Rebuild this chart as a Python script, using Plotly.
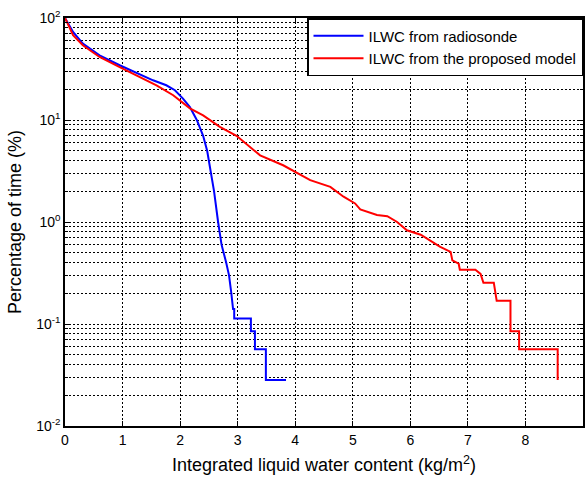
import plotly.graph_objects as go

# ---- data ----
radiosonde_x = [0, 0.14, 0.31, 0.60, 0.95, 1.24, 1.53, 1.76, 1.91, 2.05, 2.17, 2.29,
                2.40, 2.47, 2.535, 2.59, 2.66, 2.72, 2.80, 2.85, 2.89, 2.92, 2.94, 2.94,
                3.23, 3.23, 3.30, 3.30, 3.49, 3.49, 3.84]
radiosonde_y = [100, 73, 56, 43, 34.4, 28.9, 24.5, 21.9, 19.6, 16.2, 13.4, 10,
                7, 5, 3, 2, 1, 0.6, 0.4, 0.3, 0.2, 0.14, 0.14, 0.113,
                0.113, 0.085, 0.085, 0.0565, 0.0565, 0.0283, 0.0283]

model_x = [0, 0.14, 0.31, 0.60, 0.95, 1.30, 1.59, 1.88, 2.17, 2.40, 2.69, 2.98,
           3.39, 3.79, 4.0, 4.26, 4.61, 4.84, 5.04, 5.13, 5.42, 5.60, 5.77, 5.94,
           6.18, 6.38, 6.52, 6.70, 6.73, 6.84, 6.86, 7.13, 7.22, 7.27, 7.45, 7.50,
           7.74, 7.74, 7.89, 7.89, 8.56, 8.56]
model_y = [100, 67.7, 54, 41.5, 33, 26.4, 21.9, 17.5, 13, 11.1, 8.55, 7.0,
           4.5, 3.6, 3.1, 2.57, 2.21, 1.77, 1.52, 1.33, 1.17, 1.14, 1.0, 0.83,
           0.75, 0.64, 0.57, 0.51, 0.42, 0.39, 0.34, 0.34, 0.31, 0.254, 0.254, 0.169,
           0.169, 0.085, 0.085, 0.0565, 0.0565, 0.0283]

series_names = ["ILWC from radiosonde", "ILWC from the proposed model"]
x_ticks = [0, 1, 2, 3, 4, 5, 6, 7, 8, 9]
y_tickvals = [0.01, 0.1, 1, 10, 100]
y_ticktext = ["10<sup>-2</sup>", "10<sup>-1</sup>", "10<sup>0</sup>", "10<sup>1</sup>", "10<sup>2</sup>"]

font_family = "Liberation Sans, Arial, sans-serif"
grid_dash = "2px,2px"

fig = go.Figure()
fig.add_trace(go.Scatter(x=radiosonde_x, y=radiosonde_y, mode="lines",
                         name=series_names[0], line=dict(color="#0000ff", width=2)))
fig.add_trace(go.Scatter(x=model_x, y=model_y, mode="lines",
                         name=series_names[1], line=dict(color="#ff0000", width=2)))

fig.update_layout(
    width=587, height=483,
    margin=dict(l=65, r=2, t=18, b=57),
    paper_bgcolor="white", plot_bgcolor="white",
    font=dict(family=font_family, size=14, color="black"),
    showlegend=True,
    legend=dict(x=1, y=1, xanchor="right", yanchor="top",
                bgcolor="white", bordercolor="black", borderwidth=1.5,
                font=dict(size=15), tracegroupgap=0, itemwidth=50),
)

fig.update_xaxes(
    range=[0, 9], tickvals=x_ticks, ticktext=[str(v) for v in x_ticks],
    showgrid=True, gridcolor="black", griddash=grid_dash, gridwidth=1,
    showline=True, linecolor="black", linewidth=1.5, mirror="ticks",
    ticks="inside", ticklen=5, tickcolor="black", zeroline=False,
    tickfont=dict(size=14),
    title=dict(text="Integrated liquid water content (kg/m<sup>2</sup>)",
               font=dict(size=18), standoff=12),
)

fig.update_yaxes(
    type="log", range=[-2, 2], tickvals=y_tickvals, ticktext=y_ticktext,
    showgrid=True, gridcolor="black", griddash=grid_dash, gridwidth=1,
    showline=True, linecolor="black", linewidth=1.5, mirror="ticks",
    ticks="inside", ticklen=5, tickcolor="black", zeroline=False,
    tickfont=dict(size=14),
    minor=dict(dtick="D1", showgrid=True, gridcolor="black", griddash=grid_dash,
               gridwidth=1, ticks="inside", ticklen=3, tickcolor="black"),
    title=dict(text="Percentage of time (%)", font=dict(size=18), standoff=10),
)

fig.write_html("out.html")
